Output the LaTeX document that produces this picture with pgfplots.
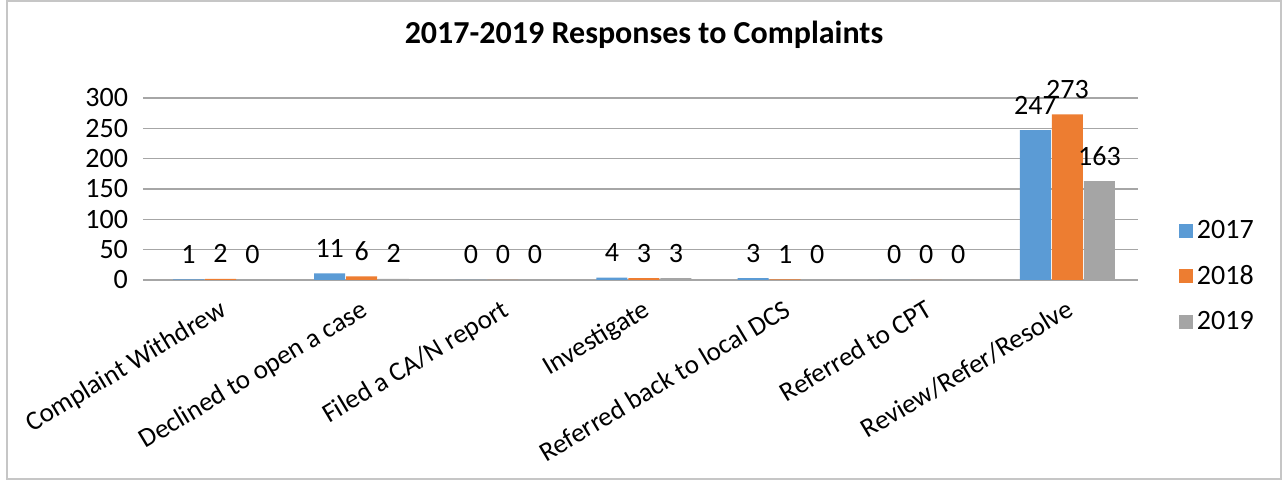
\documentclass[border=0pt]{standalone}
\usepackage{pgfplots}
\pgfplotsset{compat=1.18}
\usepackage{fontspec}
\setmainfont{Carlito}
\definecolor{c17}{HTML}{5B9BD5}
\definecolor{c18}{HTML}{ED7D31}
\definecolor{c19}{HTML}{A5A5A5}
\definecolor{gridc}{HTML}{A6A6A6}
\newcommand{\lab}{\fontsize{14}{16.8}\selectfont}
\newcommand{\xlab}{\fontsize{13.5}{16}\selectfont}
\begin{document}
\begin{tikzpicture}
\path[use as bounding box] (0,0) rectangle (641pt,240pt);
\draw[gray!45, line width=0.8pt] (3.5pt,0.6pt) rectangle (640.4pt,239.6pt);
\begin{axis}[
  at={(75pt,100pt)}, anchor=south west,
  scale only axis, width=494pt, height=91pt,
  ybar=0.5pt, bar width=15.5pt,
  xmin=-0.5, xmax=6.5, ymin=0, ymax=300,
  ytick={0,50,...,300},
  xtick={0,...,6},
  xticklabels={Complaint Withdrew, Declined to open a case, Filed a CA/N report, Investigate, Referred back to local DCS, Referred to CPT, Review/Refer/Resolve},
  minor xtick={-0.5,0.5,...,6.5},
  xtick style={draw=none},
  minor x tick style={gridc, line width=0.6pt},
  ytick style={gridc, line width=0.6pt},
  tick align=outside,
  major tick length=3.5pt,
  minor tick length=4.5pt,
  axis lines*=left,
  x axis line style={gridc, line width=0.6pt},
  y axis line style={draw=none},
  ymajorgrids, grid style={gridc, line width=0.6pt},
  /pgf/number format/assume math mode=true,
  tick label style={font=\lab},
  yticklabel style={xshift=-4pt},
  xticklabel style={font=\xlab, yshift=-1pt, rotate=31, anchor=north east},
  title={\fontsize{16}{19}\selectfont\bfseries 2017-2019 Responses to Complaints},
  title style={at={(0.5,1)}, anchor=center, yshift=25.5pt},
  nodes near coords,
  every node near coord/.append style={font=\lab, anchor=center, yshift=12.5pt, /pgf/number format/assume math mode=true},
  legend style={at={(1.035,0.02)}, anchor=west, draw=none, fill=none, font=\lab, row sep=8pt,
    /tikz/every even column/.append style={column sep=3pt}},
  legend cell align=left,
  legend image code/.code={\fill[#1] (0pt,-3.5pt) rectangle (7pt,3.5pt);},
]
\addplot[fill=c17, draw=none] coordinates {(0,1) (1,11) (2,0) (3,4) (4,3) (5,0) (6,247)};
\addplot[fill=c18, draw=none] coordinates {(0,2) (1,6) (2,0) (3,3) (4,1) (5,0) (6,273)};
\addplot[fill=c19, draw=none] coordinates {(0,0) (1,2) (2,0) (3,3) (4,0) (5,0) (6,163)};
\legend{2017,2018,2019}
\end{axis}
\end{tikzpicture}
\end{document}
